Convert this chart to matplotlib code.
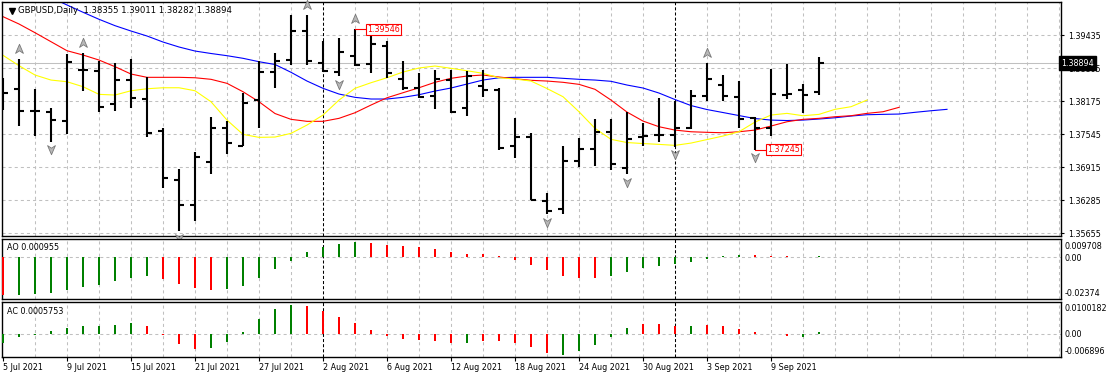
import numpy as np
import matplotlib
matplotlib.use('Agg')
import matplotlib.pyplot as plt
from matplotlib import transforms, font_manager
from matplotlib.path import Path

# GBPUSD daily bars, 5 Jul 2021 - 14 Sep 2021
opens = [1.38480, 1.38398, 1.37983, 1.37970, 1.37798, 1.38766, 1.38747, 1.38117, 1.38575, 1.38218,
         1.37607, 1.36665, 1.36188, 1.37015, 1.37653, 1.37321, 1.38194, 1.38723, 1.38958, 1.39517,
         1.38894, 1.38734, 1.39034, 1.38875, 1.39225, 1.38595, 1.38417, 1.38276, 1.38575, 1.38046,
         1.38467, 1.38385, 1.37321, 1.37493, 1.36272, 1.36107, 1.37035, 1.37259, 1.37589, 1.36902,
         1.37493, 1.37526, 1.37526, 1.37653, 1.38276, 1.38480, 1.38257, 1.37845, 1.37665, 1.38290,
         1.38385, 1.38355]
highs = [1.38608, 1.38971, 1.38398, 1.38035, 1.39072, 1.39085, 1.38938, 1.38894, 1.38971, 1.38627,
         1.37653, 1.36870, 1.37206, 1.37863, 1.37798, 1.38321, 1.38938, 1.39097, 1.39812, 1.39820,
         1.39320, 1.39372, 1.39546, 1.39479, 1.39320, 1.38938, 1.38715, 1.38767, 1.38767, 1.38753,
         1.38767, 1.38417, 1.37856, 1.37558, 1.36413, 1.37321, 1.37474, 1.37826, 1.37831, 1.37970,
         1.37749, 1.38237, 1.38175, 1.38385, 1.38906, 1.38671, 1.38557, 1.37875, 1.38786, 1.38875,
         1.38494, 1.39011]
lows = [1.38003, 1.37703, 1.37512, 1.37397, 1.37538, 1.38371, 1.37970, 1.37989, 1.38035, 1.37481,
        1.36518, 1.35697, 1.35888, 1.36774, 1.37162, 1.37315, 1.37653, 1.38417, 1.38862, 1.38862,
        1.38723, 1.38652, 1.38843, 1.38704, 1.38608, 1.38385, 1.38226, 1.38016, 1.37939, 1.37894,
        1.38257, 1.37239, 1.37092, 1.36280, 1.36012, 1.36025, 1.36921, 1.36940, 1.36858, 1.36774,
        1.37321, 1.37397, 1.37302, 1.37634, 1.38175, 1.38175, 1.37653, 1.37245, 1.37512, 1.38213,
        1.37952, 1.38282]
closes = [1.38333, 1.37989, 1.37990, 1.37811, 1.38914, 1.38770, 1.38066, 1.38575, 1.38237, 1.37569,
          1.36709, 1.36188, 1.37110, 1.37653, 1.37378, 1.38130, 1.38723, 1.38938, 1.39517, 1.38944,
          1.38753, 1.39116, 1.38862, 1.39257, 1.38704, 1.38429, 1.38246, 1.38595, 1.37959, 1.38652,
          1.38385, 1.37283, 1.37493, 1.36290, 1.36081, 1.37035, 1.37253, 1.37589, 1.36972, 1.37444,
          1.37507, 1.37530, 1.37653, 1.38276, 1.38589, 1.38276, 1.37831, 1.37665, 1.38309, 1.38300,
          1.38290, 1.38894]

# alligator lines as drawn (already shifted forward)
jaw = [np.nan, np.nan, np.nan,
       1.40151, 1.40008, 1.39869, 1.39735, 1.39613, 1.39511, 1.39416, 1.39301, 1.39206, 1.39129,
       1.39082, 1.39040, 1.38990, 1.38925, 1.38872, 1.38723, 1.38556, 1.38417, 1.38308, 1.38245,
       1.38213, 1.38213, 1.38245, 1.38295, 1.38365, 1.38423, 1.38499, 1.38575, 1.38619, 1.38627,
       1.38627, 1.38627, 1.38608, 1.38589, 1.38575, 1.38551, 1.38480, 1.38423, 1.38327, 1.38203,
       1.38088, 1.38012, 1.37955, 1.37897, 1.37840, 1.37811, 1.37802, 1.37811, 1.37831, 1.37855,
       1.37888, 1.37913, 1.37920, 1.37926, 1.37959, 1.37989, 1.38016]
teeth = [1.39785, 1.39645, 1.39479, 1.39307, 1.39135, 1.39053, 1.38957, 1.38830, 1.38690, 1.38627,
         1.38627, 1.38627, 1.38619, 1.38589, 1.38512, 1.38352, 1.38161, 1.37936, 1.37825, 1.37787,
         1.37787, 1.37844, 1.37951, 1.38098, 1.38237, 1.38333, 1.38428, 1.38532, 1.38608, 1.38652,
         1.38671, 1.38633, 1.38600, 1.38570, 1.38556, 1.38532, 1.38493, 1.38398, 1.38193, 1.37964,
         1.37792, 1.37684, 1.37620, 1.37588, 1.37577, 1.37569, 1.37588, 1.37620, 1.37697, 1.37779,
         1.37825, 1.37844, 1.37875, 1.37894, 1.37939, 1.37970, 1.38054]
lips = [1.39047, 1.38849, 1.38671, 1.38575, 1.38543, 1.38448, 1.38302, 1.38289, 1.38371, 1.38409,
        1.38428, 1.38428, 1.38371, 1.38161, 1.37811, 1.37538, 1.37481, 1.37487, 1.37557, 1.37716,
        1.37907, 1.38193, 1.38417, 1.38524, 1.38619, 1.38728, 1.38805, 1.38843, 1.38799, 1.38753,
        1.38703, 1.38619, 1.38595, 1.38556, 1.38413, 1.38257, 1.37970, 1.37653, 1.37443, 1.37382,
        1.37363, 1.37347, 1.37328, 1.37372, 1.37439, 1.37506, 1.37588, 1.37773, 1.37907, 1.37939,
        1.37894, 1.37920, 1.38016, 1.38066, 1.38193]

fractal_up = [1, 5, 19, 22, 44]
fractal_dn = [3, 11, 21, 34, 39, 42, 47]

ao = [-0.0215, -0.0212, -0.0208, -0.0202, -0.0186, -0.0167, -0.0158, -0.0134, -0.0116, -0.0109,
      -0.0125, -0.0153, -0.0175, -0.0185, -0.0182, -0.0166, -0.0116, -0.0064, -0.0020, 0.0031,
      0.0057, 0.0074, 0.0086, 0.0081, 0.0068, 0.0063, 0.0057, 0.0046, 0.0031, 0.0018,
      0.0017, 0.0007, -0.0015, -0.0042, -0.0075, -0.0107, -0.0118, -0.0119, -0.0107, -0.0085,
      -0.0063, -0.0052, -0.0040, -0.0029, -0.0009, 0.0007, 0.0014, 0.0011, 0.0008, 0.0006,
      0.0003, 0.000955]
ao_up = "rgggggggggrrrrgggggggggrrrrrrrrrrrrrrrgggggggggrrrrg"
ac = [-0.0025, -0.0008, -0.0002, 0.0009, 0.0019, 0.0024, 0.0027, 0.0030, 0.0036, 0.0027,
      -0.0001, -0.0030, -0.0045, -0.0041, -0.0024, 0.0008, 0.0047, 0.0076, 0.0088, 0.0087,
      0.0072, 0.0054, 0.0036, 0.0012, -0.0005, -0.0014, -0.0018, -0.0021, -0.0026, -0.0027,
      -0.0020, -0.0021, -0.0026, -0.0038, -0.0056, -0.0062, -0.0050, -0.0031, -0.0008, 0.0020,
      0.0033, 0.0032, 0.0027, 0.0024, 0.0029, 0.0027, 0.0017, 0.0006, 0.0001, -0.0005,
      -0.0008, 0.0005753]
ac_up = "gggggggggrrrrggggggrrrrrrrrrrgrrrrrgggggrrrgrrrrrrg"

date_idx = [0, 4, 8, 12, 16, 20, 24, 28, 32, 36, 40, 44, 48]
date_labels = ['5 Jul 2021', '9 Jul 2021', '15 Jul 2021', '21 Jul 2021', '27 Jul 2021',
               '2 Aug 2021', '6 Aug 2021', '12 Aug 2021', '18 Aug 2021', '24 Aug 2021',
               '30 Aug 2021', '3 Sep 2021', '9 Sep 2021']
price_ticks = [1.39435, 1.38805, 1.38175, 1.37545, 1.36915, 1.36285, 1.35655]
separators = [20, 42]
bid = 1.38894

# fonts: MT4 uses a narrow face
installed = {f.name for f in font_manager.fontManager.ttflist}
if 'Liberation Sans Narrow' in installed:
    FONT, FS = 'Liberation Sans Narrow', 7.5
else:
    FONT, FS = 'DejaVu Sans', 5.8
plt.rcParams['font.family'] = [FONT, 'DejaVu Sans']
plt.rcParams['lines.scale_dashes'] = False

W, H = 1107, 378
fig = plt.figure(figsize=(W / 100, H / 100), dpi=100)


def box(x0, y0, x1, y1):
    return [x0 / W, 1 - y1 / H, (x1 - x0) / W, (y1 - y0) / H]


ax = fig.add_axes(box(2, 2, 1061, 236))
ax_ao = fig.add_axes(box(2, 238.5, 1061, 299))
ax_ac = fig.add_axes(box(2, 301.5, 1061, 357))

XMIN, XMAX = -1 / 16, 1058 / 16
grid_kw = dict(color='#c0c0c0', lw=0.75, ls=(0, (2.2, 2.2)), zorder=0)
sep_kw = dict(color='black', lw=0.75, ls=(0, (2.2, 1.5)), zorder=1)

for a in (ax, ax_ao, ax_ac):
    a.set_xlim(XMIN, XMAX)
    for s in a.spines.values():
        s.set_linewidth(1.0)
    for gx in range(2, 67, 2):
        if gx not in separators:
            a.axvline(gx, **grid_kw)
    for sx in separators:
        a.axvline(sx, **sep_kw)

# ---- main price panel
ax.set_ylim(1.35598, 1.40065)
for p in price_ticks:
    ax.axhline(p, **grid_kw)
ax.axhline(bid, color='#c0c0c0', lw=0.75, zorder=0.5)

x = np.arange(len(opens))
ax.vlines(x, lows, highs, color='black', lw=1.5, zorder=3)
ax.hlines(opens, x - 0.33, x, color='black', lw=1.5, zorder=3)
ax.hlines(closes, x, x + 0.33, color='black', lw=1.5, zorder=3)

ax.plot(np.arange(len(jaw)), jaw, color='#0000ff', lw=0.8, zorder=2)
ax.plot(np.arange(len(teeth)), teeth, color='#ff0000', lw=0.8, zorder=2)
ax.plot(np.arange(len(lips)), lips, color='#ffff00', lw=0.8, zorder=2)

# fractal arrows
arrow = Path([(0, 1), (0.75, -0.75), (0, -0.25), (-0.75, -0.75), (0, 1)],
             [Path.MOVETO, Path.LINETO, Path.LINETO, Path.LINETO, Path.CLOSEPOLY])
arrow_dn = Path(arrow.vertices * [1, -1], arrow.codes)
up_tr = transforms.offset_copy(ax.transData, fig=fig, y=7.3, units='points')
dn_tr = transforms.offset_copy(ax.transData, fig=fig, y=-5.4, units='points')
ax.plot(fractal_up, [highs[i] for i in fractal_up], ls='none', marker=arrow, ms=7.5,
        mfc='#b8b8b8', mec='#787878', mew=0.6, transform=up_tr, zorder=4, clip_on=False)
ax.plot(fractal_dn, [lows[i] for i in fractal_dn], ls='none', marker=arrow_dn, ms=7.5,
        mfc='#b8b8b8', mec='#787878', mew=0.6, transform=dn_tr, zorder=4, clip_on=False)

# high / low price tags
for i, val in ((22, highs[22]), (47, lows[47])):
    ax.plot([i, i + 0.72], [val, val], color='red', lw=0.8, zorder=4)
    ax.text(i + 0.76, val, '%.5f' % val, color='red', fontsize=FS, ha='left', va='center',
            zorder=5, bbox=dict(boxstyle='square,pad=0.12', fc='white', ec='red', lw=0.8))

ax.yaxis.tick_right()
ax.set_yticks(price_ticks)
ax.set_yticklabels(['%.5f' % p for p in price_ticks])
ax.tick_params(axis='y', length=2, width=0.8, pad=3.5, labelsize=FS)
ax.set_xticks([])
ax.text(1.0, bid, '%.5f' % bid, transform=transforms.blended_transform_factory(ax.transAxes, ax.transData),
        color='white', fontsize=FS, ha='left', va='center', zorder=10, clip_on=False,
        bbox=dict(boxstyle='square,pad=0.3', fc='black', ec='black'))

ax.plot([10 / 1059], [1 - 8.5 / 234], marker='v', color='black', ms=4, transform=ax.transAxes, clip_on=False)
ax.text(16 / 1059, 1 - 8.5 / 234, 'GBPUSD,Daily  %.5f %.5f %.5f %.5f' % (opens[-1], highs[-1], lows[-1], closes[-1]),
        transform=ax.transAxes, fontsize=FS * 1.05, ha='left', va='center', zorder=10)

# ---- AO panel
ax_ao.set_ylim(-0.02374, 0.0107)
ax_ao.axhline(0, **grid_kw)
ax_ao.bar(np.arange(len(ao)), ao, width=0.14,
          color=['#008000' if c == 'g' else '#ff0000' for c in ao_up], zorder=3)
ax_ao.set_xticks([])
ax_ao.set_yticks([])
ax_ao.text(5 / 1059, 1 - 9.5 / 60.5, 'AO %s' % ao[-1], transform=ax_ao.transAxes, fontsize=FS,
           ha='left', va='center')
for lab, py in (('0.009708', 8.2), ('0.00', 19.8), ('-0.02374', 54.8)):
    ax_ao.text(1.0035, 1 - py / 60.5, lab, transform=ax_ao.transAxes, fontsize=FS, ha='left',
               va='center', clip_on=False)

# ---- AC panel
ax_ac.set_ylim(-0.006896, 0.0100182)
ax_ac.axhline(0, **grid_kw)
ax_ac.bar(np.arange(len(ac)), ac, width=0.14,
          color=['#008000' if c == 'g' else '#ff0000' for c in ac_up], zorder=3)
ax_ac.set_yticks([])
ax_ac.text(5 / 1059, 1 - 9.5 / 55.5, 'AC %s' % ac[-1], transform=ax_ac.transAxes, fontsize=FS,
           ha='left', va='center')
for lab, py in (('0.0100182', 6.8), ('0.00', 32.8), ('-0.006896', 49.5)):
    ax_ac.text(1.0035, 1 - py / 55.5, lab, transform=ax_ac.transAxes, fontsize=FS, ha='left',
               va='center', clip_on=False)
ax_ac.set_xticks(date_idx)
ax_ac.set_xticklabels(date_labels)
ax_ac.tick_params(axis='x', length=3, width=0.8, pad=1.5, labelsize=FS)
for t in ax_ac.get_xticklabels():
    t.set_ha('left')

fig.savefig('out.png', dpi=100)
